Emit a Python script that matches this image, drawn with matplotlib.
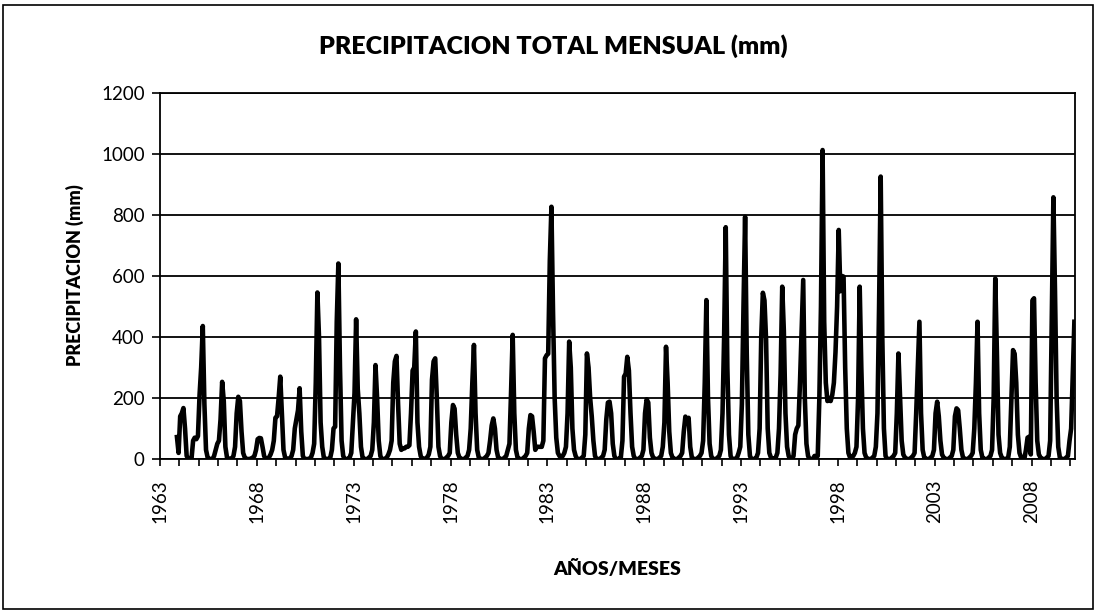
import numpy as np
import matplotlib.pyplot as plt
from matplotlib.patches import Rectangle

plt.rcParams['font.family'] = ['Lato', 'DejaVu Sans']

nan = np.nan

# precipitacion mensual (mm), ene..dic
p1963 = [nan, nan, nan, nan, nan, nan, nan, nan, nan, nan, 72, 20]
p1964 = [140, 150, 167, 100, 10, 2, 0, 0, 60, 70, 65, 75]
p1965 = [210, 300, 436, 180, 30, 5, 0, 0, 0, 10, 30, 50]
p1966 = [60, 130, 253, 190, 40, 5, 0, 0, 2, 10, 40, 150]
p1967 = [204, 190, 90, 20, 5, 0, 0, 0, 2, 5, 10, 30]
p1968 = [65, 69, 68, 40, 10, 0, 0, 5, 15, 30, 60, 135]
p1969 = [140, 200, 270, 150, 30, 5, 0, 0, 2, 10, 30, 100]
p1970 = [130, 160, 232, 90, 10, 0, 0, 0, 0, 5, 20, 50]
p1971 = [250, 546, 400, 120, 40, 5, 0, 0, 0, 5, 30, 100]
p1972 = [106, 450, 641, 300, 60, 10, 0, 0, 0, 5, 20, 120]
p1973 = [216, 458, 230, 150, 40, 5, 0, 0, 0, 5, 10, 30]
p1974 = [120, 308, 200, 60, 10, 0, 0, 0, 5, 15, 30, 60]
p1975 = [250, 320, 338, 180, 50, 30, 35, 35, 40, 40, 45, 150]
p1976 = [290, 300, 418, 120, 40, 10, 0, 0, 2, 5, 15, 40]
p1977 = [260, 320, 330, 200, 40, 10, 0, 0, 0, 5, 10, 20]
p1978 = [120, 177, 165, 80, 20, 5, 0, 0, 0, 5, 10, 30]
p1979 = [100, 250, 374, 150, 30, 5, 0, 0, 0, 5, 10, 20]
p1980 = [60, 110, 133, 100, 30, 5, 0, 0, 0, 5, 10, 30]
p1981 = [50, 220, 407, 150, 30, 5, 0, 0, 0, 5, 10, 20]
p1982 = [100, 144, 140, 90, 30, 40, 40, 40, 40, 60, 330, 340]
p1983 = [345, 650, 827, 480, 200, 70, 20, 10, 5, 10, 20, 40]
p1984 = [150, 385, 300, 100, 30, 10, 0, 0, 0, 5, 10, 80]
p1985 = [346, 300, 200, 139, 60, 10, 0, 0, 0, 5, 10, 30]
p1986 = [130, 185, 188, 150, 50, 10, 0, 0, 0, 5, 60, 270]
p1987 = [280, 335, 290, 150, 40, 10, 0, 0, 0, 5, 10, 30]
p1988 = [150, 196, 185, 70, 20, 5, 0, 0, 0, 5, 10, 40]
p1989 = [120, 368, 250, 90, 20, 5, 0, 0, 0, 5, 10, 20]
p1990 = [90, 139, 120, 135, 40, 5, 0, 0, 0, 5, 10, 20]
p1991 = [60, 250, 521, 200, 50, 10, 0, 0, 0, 5, 10, 30]
p1992 = [150, 400, 760, 300, 80, 10, 0, 0, 0, 5, 20, 40]
p1993 = [180, 500, 794, 350, 80, 10, 0, 0, 0, 5, 20, 100]
p1994 = [400, 545, 520, 390, 100, 20, 5, 0, 0, 5, 20, 100]
p1995 = [280, 565, 420, 150, 40, 10, 0, 0, 10, 80, 100, 110]
p1996 = [250, 420, 587, 200, 50, 10, 0, 0, 0, 10, 10, 10]
p1997 = [200, 500, 1013, 450, 250, 190, 200, 190, 210, 250, 350, 500]
p1998 = [751, 550, 600, 598, 300, 100, 20, 5, 5, 10, 20, 40]
p1999 = [200, 565, 300, 100, 20, 5, 0, 0, 0, 5, 10, 40]
p2000 = [150, 500, 926, 400, 100, 10, 0, 0, 0, 5, 10, 20]
p2001 = [150, 346, 200, 60, 15, 5, 0, 0, 0, 5, 10, 20]
p2002 = [150, 300, 450, 150, 30, 5, 0, 0, 0, 5, 10, 30]
p2003 = [150, 188, 140, 60, 15, 5, 0, 0, 0, 5, 10, 30]
p2004 = [140, 166, 160, 100, 30, 5, 0, 0, 0, 5, 10, 20]
p2005 = [100, 250, 450, 150, 30, 5, 0, 0, 0, 5, 10, 30]
p2006 = [200, 592, 350, 80, 20, 5, 0, 0, 0, 5, 40, 200]
p2007 = [357, 345, 250, 80, 20, 5, 0, 0, 30, 70, 73, 15]
p2008 = [520, 527, 250, 60, 15, 5, 0, 0, 0, 5, 10, 60]
p2009 = [450, 858, 550, 200, 40, 5, 0, 0, 0, 5, 10, 60]
p2010 = [100, 270, 450]

year_labels = ['1963', '1968', '1973', '1978', '1983', '1988', '1993', '1998', '2003', '2008']

serie = (p1963 + p1964 + p1965 + p1966 + p1967 + p1968 + p1969 + p1970 + p1971 + p1972
         + p1973 + p1974 + p1975 + p1976 + p1977 + p1978 + p1979 + p1980 + p1981 + p1982
         + p1983 + p1984 + p1985 + p1986 + p1987 + p1988 + p1989 + p1990 + p1991 + p1992
         + p1993 + p1994 + p1995 + p1996 + p1997 + p1998 + p1999 + p2000 + p2001 + p2002
         + p2003 + p2004 + p2005 + p2006 + p2007 + p2008 + p2009 + p2010)
serie = np.array(serie, dtype=float)
n = len(serie)
x = np.arange(n) + 0.5

fig = plt.figure(figsize=(10.96, 6.13), dpi=100)
ax = fig.add_axes([0.146, 0.2512, 0.835, 0.5971])

ax.plot(x, serie, color='black', lw=3.3, solid_joinstyle='round')

ax.set_xlim(0, n)
ax.set_ylim(0, 1200)
ax.set_yticks(np.arange(0, 1201, 200))
ax.yaxis.grid(True, color='black', lw=1.3)
ax.set_axisbelow(True)

ticks = np.arange(0, n, 12)
labels = [year_labels[i // 5] if i % 5 == 0 else '' for i in range(len(ticks))]
ax.set_xticks(ticks)
ax.set_xticklabels(labels, rotation=90)
ax.tick_params(axis='x', direction='out', length=5, width=1.2, labelsize=13.5, pad=10)
ax.tick_params(axis='y', direction='out', length=6, width=1.2, labelsize=13.5, pad=5)
for s in ax.spines.values():
    s.set_linewidth(1.3)
    s.set_color('black')

fig.text(0.505, 0.925, 'PRECIPITACION TOTAL MENSUAL (mm)', ha='center', va='center',
         fontsize=18, fontweight='heavy')
fig.text(0.068, 0.551, 'PRECIPITACION (mm)', ha='center', va='center', rotation=90,
         fontsize=13, fontweight='heavy')
fig.text(0.563, 0.072, 'AÑOS/MESES', ha='center', va='center', fontsize=14, fontweight='heavy')

fig.patches.append(Rectangle((0.003, 0.006), 0.994, 0.986, transform=fig.transFigure,
                             fill=False, edgecolor='black', lw=1.2))

fig.savefig('out.png', dpi=100)
